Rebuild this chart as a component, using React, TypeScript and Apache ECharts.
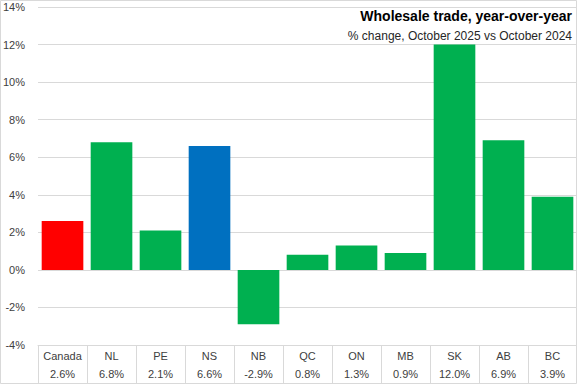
import React, { useEffect, useRef } from "react";
import * as echarts from "echarts";

const categories = ["Canada", "NL", "PE", "NS", "NB", "QC", "ON", "MB", "SK", "AB", "BC"];
const values = [2.6, 6.8, 2.1, 6.6, -2.9, 0.8, 1.3, 0.9, 12.0, 6.9, 3.9];
const barColors = ["#FF0000", "#00B050", "#00B050", "#0070C0", "#00B050", "#00B050", "#00B050", "#00B050", "#00B050", "#00B050", "#00B050"];
const titleText = "Wholesale trade, year-over-year";
const subtitleText = "% change, October 2025 vs October 2024";

const FONT = "'Liberation Sans', Arial, sans-serif";

export default function App() {
  const ref = useRef<HTMLDivElement>(null);
  useEffect(() => {
    if (!ref.current) return;
    const chart = echarts.init(ref.current, null, { renderer: "svg" });
    chart.setOption({
      animation: false,
      backgroundColor: "#ffffff",
      textStyle: { fontFamily: FONT },
      grid: { left: 36, right: 0, top: 7, bottom: 39 },
      xAxis: {
        type: "category",
        data: categories,
        axisLine: { onZero: false, lineStyle: { color: "#d9d9d9", width: 1 } },
        axisTick: { show: true, interval: 0, length: 39, lineStyle: { color: "#d9d9d9" } },
        axisLabel: {
          interval: 0,
          margin: 2,
          formatter: (v: string, i: number) => `{a|${v}}\n{a|${values[i].toFixed(1)}%}`,
          rich: { a: { fontSize: 11, lineHeight: 18, color: "#404040", fontFamily: FONT } },
        },
      },
      yAxis: {
        type: "value",
        min: -4,
        max: 14,
        interval: 2,
        axisLine: { show: false },
        axisTick: { show: false },
        splitLine: { lineStyle: { color: "#d9d9d9", width: 1 } },
        axisLabel: { formatter: (v: number) => `${v}%`, fontSize: 11, color: "#404040", margin: 13, fontFamily: FONT },
      },
      series: [
        {
          type: "bar",
          data: values.map((v, i) => ({ value: v, itemStyle: { color: barColors[i] } })),
          barCategoryGap: "15%",
        },
      ],
      graphic: [
        {
          type: "rect",
          shape: { x: 0.5, y: 0.5, width: 576, height: 383 },
          style: { fill: "none", stroke: "#d9d9d9", lineWidth: 1 },
          silent: true,
        },
        {
          type: "text",
          right: 5,
          top: 9,
          style: { text: titleText, font: `bold 14px ${FONT}`, fill: "#000000", textAlign: "right" },
        },
        {
          type: "text",
          right: 5,
          top: 30,
          style: { text: subtitleText, font: `12px ${FONT}`, fill: "#262626", textAlign: "right" },
        },
      ],
    });
    return () => chart.dispose();
  }, []);
  return <div ref={ref} style={{ position: "absolute", left: 0, top: 0, width: 577, height: 384 }} />;
}
